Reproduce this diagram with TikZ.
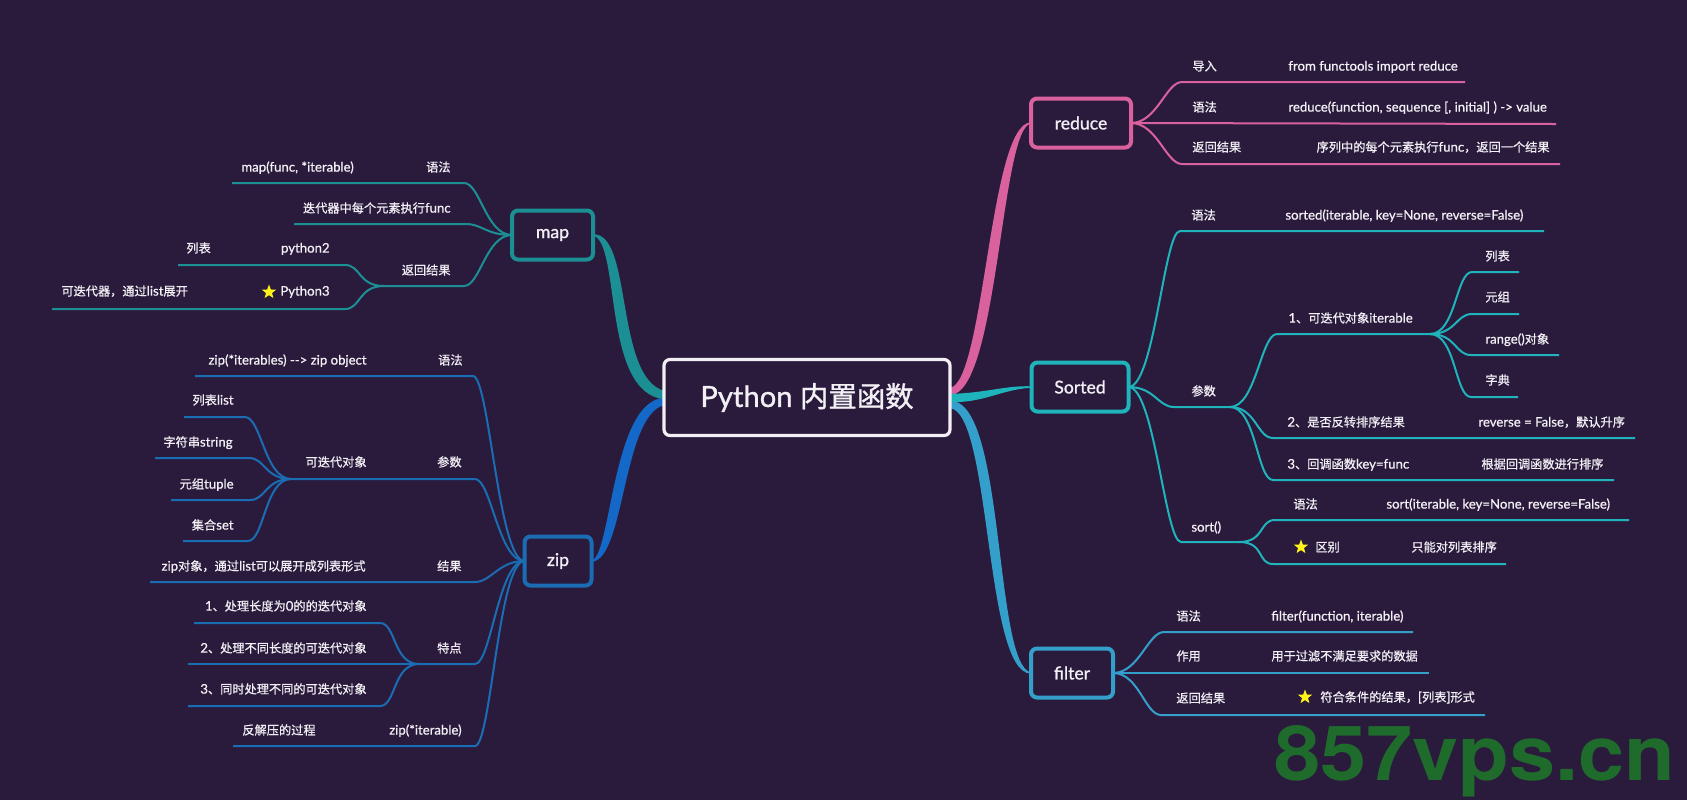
\documentclass[tikz,border=0pt]{standalone}
\usepackage{graphicx}
\usepackage{fontspec}
\usepackage{xcolor}
\setmainfont[FakeBold=1]{Lato}
\newfontfamily\lato[Scale=1.08,FakeBold=0.7]{Lato}
\newfontfamily\cjk[FakeBold=0.7]{Noto Sans CJK SC}
\newfontfamily\cjkroot[FakeBold=1.2]{Noto Sans CJK SC}
\newfontfamily\wmfont{TeX Gyre Heros}
\usetikzlibrary{shapes.geometric,backgrounds}
\definecolor{bgc}{HTML}{2A1B3D}
\definecolor{fgc}{HTML}{F3F0F5}
\definecolor{mapc}{HTML}{1B8F93}
\definecolor{zipc}{HTML}{1A6DB3}
\definecolor{redc}{HTML}{D9619E}
\definecolor{sorc}{HTML}{1FB3BC}
\definecolor{filc}{HTML}{359FCB}
\definecolor{wmc}{HTML}{1F6B2C}
\newcommand{\cn}[1]{{\cjk #1}}
\tikzset{
  ltext/.style = {inner sep = 0, text height = 4.6pt, text depth = 1pt, text = fgc, font = \fontsize{6.1}{7}\selectfont\lato},
  topic/.style = {rounded corners = 3pt, line width = 2pt, inner sep = 0, text = fgc, minimum height = 24.5pt, font = \fontsize{8.8}{10}\selectfont, outer sep = 0},
  ystar/.style = {star, star points = 5, star point ratio = 2.4, fill = yellow!90!white, inner sep = 0, minimum size = 7.5pt},
  trunk/.style = {draw = #1, fill = #1, line width = .7pt, line join = round},
  rcurve/.style = {line width = 1pt, to path = {.. controls +(26,0) and +(-16,0) .. (\tikztotarget)}},
  lcurve/.style = {line width = 1pt, to path = {.. controls +(-26,0) and +(16,0) .. (\tikztotarget)}}
}
\begin{document}
\begin{tikzpicture}[x = .5pt, y = -.5pt]
  \useasboundingbox (0, 0) rectangle (1687, 800);
  \node (root) [topic, draw = fgc, line width = 1.6pt, minimum width = 143pt, minimum height = 38pt, font = \fontsize{14.6}{16}\selectfont] at (807, 397.5) {Python {\fontsize{14.2}{16}\cjkroot 内置函数}};
  \node (map) [topic, draw = mapc, minimum width = 40.5pt] at (552.5, 235) {map};
  \node (zip) [topic, draw = zipc, minimum width = 33.5pt] at (558, 561) {zip};
  \node (reduce) [topic, draw = redc, minimum width = 50pt] at (1081, 123) {reduce};
  \node (sorted) [topic, draw = sorc, minimum width = 48.5pt] at (1080, 387) {Sorted};
  \node (filter) [topic, draw = filc, minimum width = 41pt] at (1072, 673) {filter};
  % trunks
  \begin{scope}[on background layer]
    \fill [bgc] (0, 0) rectangle (1687, 800);
    \path [trunk = zipc!80!blue!90!cyan] (zip.east) .. controls (612, 560) and (612, 402) .. ([yshift = -.5pt]root.west) -- ([yshift = -3.5pt]root.west) .. controls (622, 414) and (624, 560) .. (zip.east) -- cycle;
    \path [trunk = mapc] (map.east) .. controls (632, 233) and (614, 378) .. ([yshift = 3pt]root.west) -- ([yshift = -.5pt]root.west) .. controls (602, 392) and (622, 240) .. (map.east) -- cycle;
    \path [trunk = filc] (filter.west) .. controls (985, 672) and (992, 410) .. ([yshift = -5pt]root.east) -- ([yshift = -2pt]root.east) .. controls (1005, 400) and (993, 668) .. (filter.west) -- cycle;
    \path [trunk = redc] (reduce.west) .. controls (990, 124) and (985, 385) .. ([yshift = 4.5pt]root.east) -- ([yshift = 1.5pt]root.east) .. controls (998, 392) and (1000, 124) .. (reduce.west) -- cycle;
    \path [trunk = sorc] (sorted.west) .. controls (1005, 386) and (985, 394) .. ([yshift = 1.5pt]root.east) -- ([yshift = -2pt]root.east) .. controls (985, 402) and (1000, 389) .. (sorted.west) -- cycle;
  \end{scope}
  % map
  \coordinate (mapA) at (464, 183); \coordinate (mapAe) at (232, 183);
  \coordinate (mapB) at (466, 224); \coordinate (mapBe) at (294, 224);
  \coordinate (mapC) at (464, 286); \coordinate (mapCe) at (384, 286);
  \coordinate (mapCa) at (345, 265); \coordinate (mapCae) at (178, 265);
  \coordinate (mapCb) at (345, 309); \coordinate (mapCbe) at (52, 309);
  \draw [lcurve, mapc] (map.west) to (mapA) -- (mapAe);
  \draw [lcurve, mapc] (map.west) to (mapB) -- (mapBe);
  \draw [lcurve, mapc] (map.west) to (mapC) -- (mapCe);
  \draw [lcurve, mapc] (mapCe) to (mapCa) -- (mapCae);
  \draw [lcurve, mapc] (mapCe) to (mapCb) -- (mapCbe);
  \node (mapSyn) [ltext, anchor = east] at (451, 168) {\cn{语法}};
  \node (mapForm) [ltext, anchor = west] at (241, 168) {map(func, *iterable)};
  \node (mapEach) [ltext, anchor = east] at (451, 209) {\cn{迭代器中每个元素执行}func};
  \node (mapRet) [ltext, anchor = east] at (451, 271) {\cn{返回结果}};
  \node (mapTwo) [ltext, anchor = east] at (330, 249) {python2};
  \node (mapList) [ltext, anchor = west] at (186, 249) {\cn{列表}};
  \node (mapThree) [ltext, anchor = east] at (330, 292) {Python3};
  \node (mapStar) [ystar] at (269, 292) {};
  \node (mapIter) [ltext, anchor = west] at (61, 292) {\cn{可迭代器，通过}list\cn{展开}};
  % zip
  \coordinate (zipA) at (473, 376); \coordinate (zipAe) at (195, 376);
  \coordinate (zipB) at (475, 479); \coordinate (zipBe) at (291, 479);
  \coordinate (zipBa) at (245, 417); \coordinate (zipBae) at (184, 417);
  \coordinate (zipBb) at (249, 458); \coordinate (zipBbe) at (155, 458);
  \coordinate (zipBc) at (250, 500); \coordinate (zipBce) at (171, 500);
  \coordinate (zipBd) at (248, 541); \coordinate (zipBde) at (183, 541);
  \coordinate (zipC) at (475, 582); \coordinate (zipCe) at (150, 582);
  \coordinate (zipD) at (475, 664); \coordinate (zipDe) at (419, 664);
  \coordinate (zipDa) at (380, 623); \coordinate (zipDae) at (194, 623);
  \coordinate (zipDb) at (188, 664);
  \coordinate (zipDc) at (380, 706); \coordinate (zipDce) at (188, 706);
  \coordinate (zipE) at (475, 746); \coordinate (zipEe) at (233, 746);
  \draw [lcurve, zipc] (zip.west) to (zipA) -- (zipAe);
  \draw [lcurve, zipc] (zip.west) to (zipB) -- (zipBe);
  \draw [lcurve, zipc] (zipBe) to (zipBa) -- (zipBae);
  \draw [lcurve, zipc] (zipBe) to (zipBb) -- (zipBbe);
  \draw [lcurve, zipc] (zipBe) to (zipBc) -- (zipBce);
  \draw [lcurve, zipc] (zipBe) to (zipBd) -- (zipBde);
  \draw [lcurve, zipc] (zip.west) to (zipC) -- (zipCe);
  \draw [lcurve, zipc] (zip.west) to (zipD) -- (zipDe);
  \draw [lcurve, zipc] (zipDe) to (zipDa) -- (zipDae);
  \draw [line width = 1pt, zipc] (zipDe) -- (zipDb);
  \draw [lcurve, zipc] (zipDe) to (zipDc) -- (zipDce);
  \draw [lcurve, zipc] (zip.west) to (zipE) -- (zipEe);
  \node (zipSyn) [ltext, anchor = east] at (463, 361) {\cn{语法}};
  \node (zipForm) [ltext, anchor = east] at (367, 361) {zip(*iterables) {-}{-}> zip object};
  \node (zipArg) [ltext, anchor = east] at (462, 463) {\cn{参数}};
  \node (zipIter) [ltext, anchor = east] at (367, 463) {\cn{可迭代对象}};
  \node (zipList) [ltext, anchor = east] at (234, 401) {\cn{列表}list};
  \node (zipStr) [ltext, anchor = east] at (233, 443) {\cn{字符串}string};
  \node (zipTup) [ltext, anchor = east] at (234, 485) {\cn{元组}tuple};
  \node (zipSet) [ltext, anchor = east] at (234, 526) {\cn{集合}set};
  \node (zipRes) [ltext, anchor = east] at (462, 567) {\cn{结果}};
  \node (zipObj) [ltext, anchor = east] at (366, 567) {zip\cn{对象，通过}list\cn{可以展开成列表形式}};
  \node (zipFeat) [ltext, anchor = east] at (462, 649) {\cn{特点}};
  \node (zipFa) [ltext, anchor = east] at (367, 607) {1\cn{、处理长度为}0\cn{的的迭代对象}};
  \node (zipFb) [ltext, anchor = east] at (367, 649) {2\cn{、处理不同长度的可迭代对象}};
  \node (zipFc) [ltext, anchor = east] at (367, 690) {3\cn{、同时处理不同的可迭代对象}};
  \node (zipUn) [ltext, anchor = east] at (462, 731) {zip(*iterable)};
  \node (zipBack) [ltext, anchor = west] at (242, 731) {\cn{反解压的过程}};
  % reduce
  \coordinate (redA) at (1182, 82); \coordinate (redAe) at (1465, 82);
  \coordinate (redB) at (1556, 124);
  \coordinate (redC) at (1182, 164); \coordinate (redCe) at (1560, 164);
  \draw [rcurve, redc] (reduce.east) to (redA) -- (redAe);
  \draw [line width = 1pt, redc] (reduce.east) -- (redB);
  \draw [rcurve, redc] (reduce.east) to (redC) -- (redCe);
  \node (redImp) [ltext, anchor = west] at (1192, 67) {\cn{导入}};
  \node (redFrom) [ltext, anchor = west] at (1288, 67) {from functools import reduce};
  \node (redSyn) [ltext, anchor = west] at (1192, 108) {\cn{语法}};
  \node (redForm) [ltext, anchor = west] at (1288, 108) {reduce(function, sequence [, initial] ) -> value};
  \node (redRet) [ltext, anchor = west] at (1192, 148) {\cn{返回结果}};
  \node (redEach) [ltext, anchor = east] at (1550, 148) {\cn{序列中的每个元素执行}func\cn{，返回一个结果}};
  % sorted
  \coordinate (sorA) at (1180, 231); \coordinate (sorAe) at (1544, 231);
  \coordinate (sorB) at (1174, 407); \coordinate (sorBe) at (1230, 407);
  \coordinate (sorBa) at (1277, 334); \coordinate (sorBae) at (1430, 334);
  \coordinate (sorP) at (1472, 272); \coordinate (sorPe) at (1519, 272);
  \coordinate (sorQ) at (1472, 314); \coordinate (sorQe) at (1519, 314);
  \coordinate (sorR) at (1471, 355); \coordinate (sorRe) at (1559, 355);
  \coordinate (sorS) at (1471, 397); \coordinate (sorSe) at (1518, 397);
  \coordinate (sorBb) at (1273, 438); \coordinate (sorBbe) at (1635, 438);
  \coordinate (sorBc) at (1273, 480); \coordinate (sorBce) at (1614, 480);
  \coordinate (sorC) at (1181, 542); \coordinate (sorCe) at (1239, 542);
  \coordinate (sorCa) at (1275, 520); \coordinate (sorCae) at (1629, 520);
  \coordinate (sorCb) at (1273, 564); \coordinate (sorCbe) at (1506, 564);
  \draw [rcurve, sorc] (sorted.east) to (sorA) -- (sorAe);
  \draw [rcurve, sorc] (sorted.east) to (sorB) -- (sorBe);
  \draw [rcurve, sorc] (sorBe) to (sorBa) -- (sorBae);
  \draw [rcurve, sorc] (sorBae) to (sorP) -- (sorPe);
  \draw [rcurve, sorc] (sorBae) to (sorQ) -- (sorQe);
  \draw [rcurve, sorc] (sorBae) to (sorR) -- (sorRe);
  \draw [rcurve, sorc] (sorBae) to (sorS) -- (sorSe);
  \draw [rcurve, sorc] (sorBe) to (sorBb) -- (sorBbe);
  \draw [rcurve, sorc] (sorBe) to (sorBc) -- (sorBce);
  \draw [rcurve, sorc] (sorted.east) to (sorC) -- (sorCe);
  \draw [rcurve, sorc] (sorCe) to (sorCa) -- (sorCae);
  \draw [rcurve, sorc] (sorCe) to (sorCb) -- (sorCbe);
  \node (sorSyn) [ltext, anchor = west] at (1191, 216) {\cn{语法}};
  \node (sorForm) [ltext, anchor = west] at (1285, 216) {sorted(iterable, key=None, reverse=False)};
  \node (sorArg) [ltext, anchor = west] at (1191, 392) {\cn{参数}};
  \node (sorIter) [ltext, anchor = west] at (1288, 319) {1\cn{、可迭代对象}iterable};
  \node (sorList) [ltext, anchor = west] at (1485, 257) {\cn{列表}};
  \node (sorTup) [ltext, anchor = west] at (1485, 298) {\cn{元组}};
  \node (sorRange) [ltext, anchor = west] at (1485, 340) {range()\cn{对象}};
  \node (sorDict) [ltext, anchor = west] at (1485, 381) {\cn{字典}};
  \node (sorRev) [ltext, anchor = west] at (1287, 423) {2\cn{、是否反转排序结果}};
  \node (sorFalse) [ltext, anchor = west] at (1478, 423) {reverse = False\cn{，默认升序}};
  \node (sorKey) [ltext, anchor = west] at (1287, 465) {3\cn{、回调函数}key=func};
  \node (sorCall) [ltext, anchor = west] at (1481, 465) {\cn{根据回调函数进行排序}};
  \node (sorSort) [ltext, anchor = west] at (1191, 528) {sort()};
  \node (sorSyb) [ltext, anchor = west] at (1293, 505) {\cn{语法}};
  \node (sorSf) [ltext, anchor = west] at (1386, 505) {sort(iterable, key=None, reverse=False)};
  \node (sorStar) [ystar] at (1301, 547) {};
  \node (sorDiff) [ltext, anchor = west] at (1315, 548) {\cn{区别}};
  \node (sorOnly) [ltext, anchor = west] at (1411, 548) {\cn{只能对列表排序}};
  % filter
  \coordinate (filA) at (1164, 632); \coordinate (filAe) at (1413, 632);
  \coordinate (filB) at (1145, 673); \coordinate (filBe) at (1429, 673);
  \coordinate (filC) at (1161, 715); \coordinate (filCe) at (1485, 715);
  \draw [rcurve, filc] (filter.east) to (filA) -- (filAe);
  \draw [line width = 1pt, filc] (filter.east) -- (filB) -- (filBe);
  \draw [rcurve, filc] (filter.east) to (filC) -- (filCe);
  \node (filSyn) [ltext, anchor = west] at (1176, 617) {\cn{语法}};
  \node (filForm) [ltext, anchor = west] at (1271, 617) {filter(function, iterable)};
  \node (filUse) [ltext, anchor = west] at (1176, 657) {\cn{作用}};
  \node (filDrop) [ltext, anchor = west] at (1271, 657) {\cn{用于过滤不满足要求的数据}};
  \node (filRet) [ltext, anchor = west] at (1176, 699) {\cn{返回结果}};
  \node (filStar) [ystar] at (1305, 697) {};
  \node (filOk) [ltext, anchor = west] at (1320, 698) {\cn{符合条件的结果，}[\cn{列表}]\cn{形式}};
  \node (mark857) [inner sep = 0, text = wmc, anchor = base west] at (1274, 780) {\scalebox{1.09}[1]{\fontsize{38}{40}\wmfont\bfseries 857vps.cn}};
\end{tikzpicture}
\end{document}
